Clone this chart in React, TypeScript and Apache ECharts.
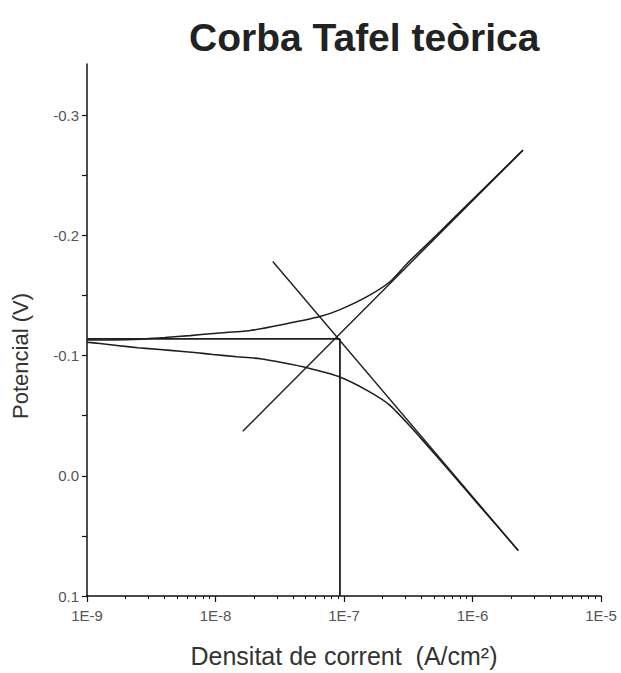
import React, { useEffect, useRef } from 'react';
import * as echarts from 'echarts';

// Axis ticks / labels
const xTickLabels = ['1E-9', '1E-8', '1E-7', '1E-6', '1E-5'];
const yTickValues = [-0.3, -0.25, -0.2, -0.15, -0.1, -0.05, 0, 0.05, 0.1];
const yLabelValues = [-0.3, -0.2, -0.1, 0, 0.1];

// Corrosion point
const ecorr = -0.114;
const icorr = 9.3e-8;
const currentMin = 1e-9;
const potentialMax = 0.1;

// Upper polarization branch (current A/cm2, potential V)
const upperCurrent = [1.0e-9, 1.33e-9, 2.28e-9, 4.05e-9, 6.33e-9, 9.58e-9, 1.86e-8, 3.35e-8, 6.5e-8, 9.31e-8, 1.51e-7, 2.28e-7, 3.09e-7, 5.58e-7, 9.57e-7, 1.64e-6, 2.47e-6];
const upperPotential = [-0.113, -0.113, -0.1134, -0.1151, -0.1167, -0.1184, -0.1209, -0.1259, -0.1325, -0.1383, -0.1491, -0.1615, -0.1765, -0.203, -0.2279, -0.2523, -0.271];

// Lower polarization branch
const lowerCurrent = [1.0e-9, 1.26e-9, 1.71e-9, 2.49e-9, 3.7e-9, 5.3e-9, 7.18e-9, 9.58e-9, 1.47e-8, 2.22e-8, 3.35e-8, 5.15e-8, 8.98e-8, 1.51e-7, 2.28e-7, 3.27e-7, 4.12e-7, 6.68e-7, 1.14e-6, 2.27e-6];
const lowerPotential = [-0.1112, -0.1101, -0.1085, -0.1066, -0.1051, -0.1037, -0.1024, -0.101, -0.0991, -0.0974, -0.0941, -0.09, -0.0828, -0.0711, -0.0587, -0.0413, -0.0293, -0.0036, 0.0252, 0.0621];

// Tafel straight lines (end points)
const tafelACurrent = [1.63e-8, 2.47e-6];
const tafelAPotential = [-0.0371, -0.271];
const tafelBCurrent = [2.79e-8, 2.27e-6];
const tafelBPotential = [-0.1784, 0.0621];

const pair = (xs: number[], ys: number[]) => xs.map((x, i) => [x, ys[i]]);

export default function App() {
  const ref = useRef<HTMLDivElement>(null);
  useEffect(() => {
    const chart = echarts.init(ref.current!, null, { renderer: 'svg' });
    const ink = '#1e1e1e';
    const mk = (name: string, data: number[][], width = 1.5, smooth: number | boolean = false) => ({
      type: 'line',
      name,
      data,
      symbol: 'none',
      showSymbol: false,
      smooth,
      silent: true,
      lineStyle: { color: ink, width },
    });
    chart.setOption({
      animation: false,
      backgroundColor: '#ffffff',
      title: {
        text: 'Corba Tafel teòrica',
        left: 189,
        top: 18,
        padding: 0,
        textStyle: { fontFamily: 'Liberation Sans', fontSize: 39, fontWeight: 'bold', color: '#222' },
      },
      grid: { left: 87, right: 20, top: 64, bottom: 75.5 },
      xAxis: {
        type: 'log',
        logBase: 10,
        min: 1e-9,
        max: 1e-5,
        name: 'Densitat de corrent  (A/cm²)',
        nameLocation: 'middle',
        nameGap: 47,
        nameTextStyle: { fontFamily: 'Liberation Sans', fontSize: 25, color: '#333' },
        axisLine: { show: true, onZero: false, lineStyle: { color: '#111', width: 1.5 } },
        axisTick: { show: true, inside: false, length: 6, lineStyle: { color: '#111', width: 1.2 } },
        minorTick: { show: true, splitNumber: 9, length: 3, lineStyle: { color: '#111', width: 1 } },
        axisLabel: {
          margin: 12,
          fontFamily: 'Liberation Sans',
          fontSize: 15,
          color: '#555',
          formatter: (v: number) => xTickLabels[Math.round(Math.log10(v)) + 9] ?? '',
        },
        splitLine: { show: false },
        minorSplitLine: { show: false },
      },
      yAxis: {
        type: 'value',
        inverse: true,
        min: -0.3427,
        max: 0.1,
        name: 'Potencial (V)',
        nameLocation: 'middle',
        nameGap: 56,
        nameTextStyle: { fontFamily: 'Liberation Sans', fontSize: 22, color: '#333', padding: [0, 52, 0, 0] },
        axisLine: { show: true, onZero: false, lineStyle: { color: '#111', width: 1.5 } },
        axisTick: { show: true, inside: false, length: 5, customValues: yTickValues, lineStyle: { color: '#111', width: 1.2 } },
        axisLabel: {
          customValues: yLabelValues,
          margin: 8,
          fontFamily: 'Liberation Sans',
          fontSize: 15,
          color: '#555',
          formatter: (v: number) => (Math.abs(v) < 1e-9 ? 0 : v).toFixed(1),
        },
        splitLine: { show: false },
      },
      series: [
        mk('Ecorr', [[currentMin, ecorr], [icorr, ecorr]], 1.8),
        mk('icorr', [[icorr, ecorr], [icorr, potentialMax]], 1.8),
        mk('Tafel A', pair(tafelACurrent, tafelAPotential), 1.4),
        mk('Tafel B', pair(tafelBCurrent, tafelBPotential), 1.4),
        mk('Branca superior', pair(upperCurrent, upperPotential), 1.6, 0.2),
        mk('Branca inferior', pair(lowerCurrent, lowerPotential), 1.6, 0.2),
      ],
    });
    return () => chart.dispose();
  }, []);
  return <div ref={ref} style={{ position: 'fixed', left: 0, top: 0, width: 621, height: 673 }} />;
}
